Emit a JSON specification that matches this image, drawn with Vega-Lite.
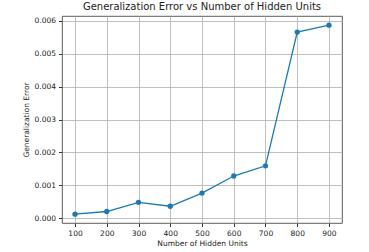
{
  "$schema": "https://vega.github.io/schema/vega-lite/v6.json",
  "width": 280,
  "height": 207,
  "autosize": {"type": "none"},
  "padding": {"left": 62, "top": 16, "right": 27, "bottom": 29},
  "background": "white",
  "title": {"text": "Generalization Error vs Number of Hidden Units", "font": "DejaVu Sans", "fontSize": 10, "fontWeight": "normal", "color": "#222", "offset": 4},
  "config": {
    "view": {"stroke": "#333", "strokeWidth": 0.8},
    "axis": {"labelFont": "DejaVu Sans", "titleFont": "DejaVu Sans", "labelFontSize": 7.5, "titleFontSize": 7.5, "titleFontWeight": "normal", "labelColor": "#222", "titleColor": "#222", "gridColor": "#b0b0b0", "gridWidth": 0.8, "domain": false, "tickColor": "#333", "tickSize": 3.5}
  },
  "data": {"values": [
    {"units": 100, "error": 0.00012},
    {"units": 200, "error": 0.0002},
    {"units": 300, "error": 0.00048},
    {"units": 400, "error": 0.00036},
    {"units": 500, "error": 0.00076},
    {"units": 600, "error": 0.00128},
    {"units": 700, "error": 0.00159},
    {"units": 800, "error": 0.00566},
    {"units": 900, "error": 0.00587}
  ]},
  "mark": {"type": "line", "color": "#1f77b4", "strokeWidth": 1.3, "point": {"filled": true, "size": 28, "color": "#1f77b4", "opacity": 1}},
  "encoding": {
    "x": {"field": "units", "type": "quantitative", "title": "Number of Hidden Units", "scale": {"domain": [59, 941], "nice": false, "zero": false}, "axis": {"values": [100, 200, 300, 400, 500, 600, 700, 800, 900], "titlePadding": 2, "labelPadding": 3}},
    "y": {"field": "error", "type": "quantitative", "title": "Generalization Error", "scale": {"domain": [-0.00015, 0.00615], "nice": false, "zero": false}, "axis": {"values": [0, 0.001, 0.002, 0.003, 0.004, 0.005, 0.006], "format": ".3f", "titlePadding": 4, "labelPadding": 3}}
  }
}
